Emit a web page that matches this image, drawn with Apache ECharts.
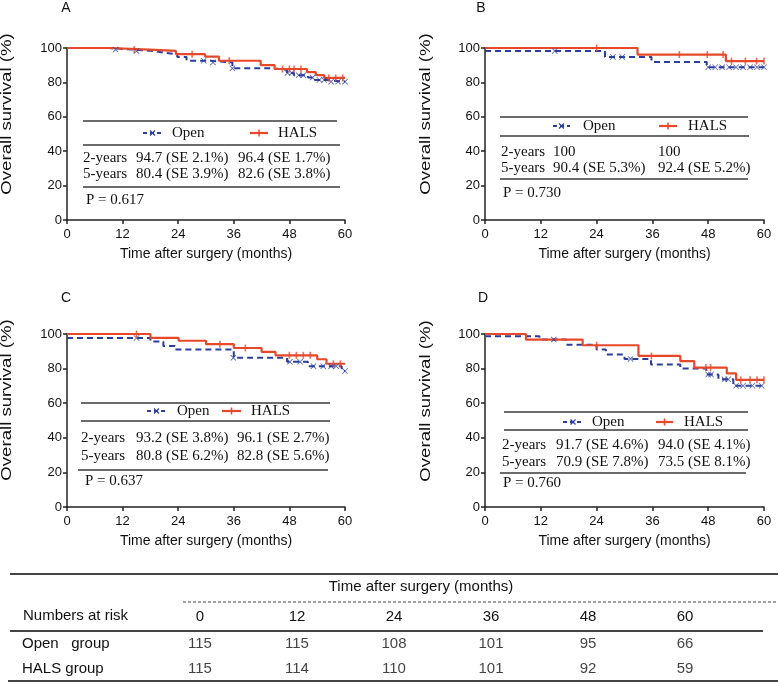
<!DOCTYPE html>
<html><head><meta charset="utf-8">
<script src="https://cdn.jsdelivr.net/npm/echarts@6.0.0/dist/echarts.min.js"></script>
<style>html,body{margin:0;padding:0;background:#fff}#c{width:778px;height:683px}</style>
</head><body><div id="c"></div>
<script>
// ---------- data ----------
const xTicks = [0, 12, 24, 36, 48, 60];
const panelTitles = ['A', 'B', 'C', 'D'];
const seriesNames = ['Open', 'HALS'];
const yAxisTitle = 'Overall survival (%)';
const xAxisTitle = 'Time after surgery (months)';

// Panel A
const openA = [[0,100],[9,99.1],[14,98.2],[19,97.3],[21,96.4],[23.8,94.7],[25.8,92.6],[31,91.6],[35.7,88.2],[44.5,87.3],[47.5,85.5],[49,84.2],[52,82.8],[53.5,81.4],[56,80.4],[60,80.4]];
const halsA = [[0,100],[9,99.1],[17.8,98.3],[23.5,96.4],[29.8,95.0],[32.8,92.6],[41.8,90.1],[44.8,87.8],[51.8,86.0],[53.7,84.2],[55.5,82.6],[60,82.6]];
const openCensA = [[10.5,99.1],[15,98.2],[29.5,92.6],[31.5,91.6],[35.7,88.2],[47.6,85.5],[48.5,85.5],[50,84.2],[51,84.2],[53,82.8],[54.5,81.4],[55.5,81.4],[57,80.4],[58.5,80.4],[60,80.4]];
const halsCensA = [[14.5,99.1],[27,96.4],[35,92.6],[46.5,87.8],[48,87.8],[49,87.8],[50.5,87.8],[56.5,82.6],[58,82.6],[59.5,82.6]];
const statsA = ['94.7 (SE 2.1%)','96.4 (SE 1.7%)','80.4 (SE 3.9%)','82.6 (SE 3.8%)','P = 0.617'];

// Panel B
const openB = [[0,98.3],[25.8,94.8],[35.8,91.9],[47.7,88.8],[60,88.8]];
const halsB = [[0,100],[32.8,96.2],[51.8,92.4],[60,92.4]];
const openCensB = [[15,98.3],[27.5,94.8],[29.5,94.8],[48,88.8],[49.5,88.8],[51,88.8],[52.5,88.8],[54,88.8],[55.5,88.8],[57,88.8],[58.5,88.8],[60,88.8]];
const halsCensB = [[24,100],[41.8,96.2],[47.8,96.2],[51.2,96.2],[53,92.4],[56,92.4],[58.4,92.4],[60,92.4]];
const statsB = ['100','100','90.4 (SE 5.3%)','92.4 (SE 5.2%)','P = 0.730'];

// Panel C
const openC = [[0,97.7],[18,95.6],[20.8,93.1],[23.3,91.0],[36,86.2],[47.5,83.9],[52,81.4],[59.3,78.6],[60,78.6]];
const halsC = [[0,100],[18,97.8],[24.1,96.1],[30,94.1],[36,91.9],[42,89.7],[45,87.7],[54,85.4],[56,82.8],[60,82.8]];
const openCensC = [[15,97.7],[35.9,86.2],[48.1,83.9],[50.3,83.9],[53.2,81.4],[55.3,81.4],[57,81.4],[58.1,81.4],[60,78.6]];
const halsCensC = [[15,100],[33,94.1],[38.5,91.9],[48,87.7],[49.5,87.7],[51,87.7],[52.5,87.7],[57.5,82.8],[59,82.8]];
const statsC = ['93.2 (SE 3.8%)','96.1 (SE 2.7%)','80.8 (SE 6.2%)','82.8 (SE 5.6%)','P = 0.637'];

// Panel D
const openD = [[0,98.7],[11.7,96.8],[17.5,93.8],[24,91.0],[26,88.2],[30,85.6],[35.7,82.4],[42,80.0],[47.6,76.6],[50.2,73.8],[53.4,70.1],[60,70.1]];
const halsD = [[0,100],[8.8,96.8],[21,93.5],[33,87.3],[42,84.3],[45,80.6],[52,77.2],[54,73.5],[60,73.5]];
const openCensD = [[14.8,96.8],[31.3,85.6],[48,76.6],[48.6,76.6],[51.5,73.8],[52.3,73.8],[54,70.1],[55.5,70.1],[57.5,70.1],[59.5,70.1]];
const halsCensD = [[24,93.5],[35.8,87.3],[47.5,80.6],[48.5,80.6],[55,73.5],[57,73.5],[58.5,73.5],[60,73.5]];
const statsD = ['91.7 (SE 4.6%)','94.0 (SE 4.1%)','70.9 (SE 7.8%)','73.5 (SE 8.1%)','P = 0.760'];

const rowLabels = ['2-years', '5-years'];

// Numbers at risk table
const riskTimes = [0, 12, 24, 36, 48, 60];
const riskGroups = ['Open   group', 'HALS group'];
const openRisk = [115, 115, 108, 101, 95, 66];
const halsRisk = [115, 114, 110, 101, 92, 59];
const riskHeader = 'Numbers at risk';

// ---------- styles / layout ----------
const BLUE = '#2c3e9c', RED = '#e8482a', AX = '#222', RULE = '#3a3a3a';
const SANS = '"Liberation Sans", Arial, Helvetica, sans-serif';
const SERIF = '"Liberation Serif", "Times New Roman", Times, serif';
const xPath = 'path://M0,1L1,0L5,4L9,0L10,1L6,5L10,9L9,10L5,6L1,10L0,9L4,5Z';

const panels = [
  {left:67, top:48, w:278, h:172, open:openA, hals:halsA, oc:openCensA, hc:halsCensA, st:statsA,
   title:[66,8.5], yname:[7.5,114],
   inset:{r1:[121,83,337], leg:{y:133,b:[143,162],open:172,r:[250,268],hals:278}, r2:[145,83,340], rows:[158,174], cols:[83,136,238], r3:[187,83,340], p:[86,200]}},
  {left:485, top:48, w:279, h:172, open:openB, hals:halsB, oc:openCensB, hc:halsCensB, st:statsB,
   title:[481,8.5], yname:[426,114],
   inset:{r1:[117,500,748], leg:{y:126,b:[553,570],open:583,r:[659,677],hals:688}, r2:[136,500,749], rows:[152,168], cols:[501,553,658], r3:[179,500,748], p:[503,193]}},
  {left:67, top:334, w:278, h:173, open:openC, hals:halsC, oc:openCensC, hc:halsCensC, st:statsC,
   title:[66,298], yname:[7.5,400],
   inset:{r1:[403,81,330], leg:{y:411,b:[147,166],open:177,r:[222,241],hals:251}, r2:[421,81,330], rows:[438,456], cols:[81,136,237], r3:[470,78,328], p:[85,481]}},
  {left:485, top:334, w:279, h:173, open:openD, hals:halsD, oc:openCensD, hc:halsCensD, st:statsD,
   title:[483,298], yname:[426,401],
   inset:{r1:[412,504,748], leg:{y:422,b:[563,583],open:592,r:[656,673],hals:684}, r2:[430,504,748], rows:[445,462], cols:[502,556,658], r3:[473,500,746], p:[503,483]}}
];

function txt(x, y, text, font, align, extra) {
  return Object.assign({type:'text', x:x, y:y, silent:true,
    style:{text:text, font:font, fill:'#111', align:align||'left', verticalAlign:'middle'}}, extra||{});
}
function ln(x1, y1, x2, y2, opts) {
  opts = opts || {};
  return {type:'line', silent:true, shape:{x1:x1,y1:y1,x2:x2,y2:y2},
    style:{stroke:opts.color||RULE, lineWidth:opts.w||1.5, lineDash:opts.dash||null}};
}

const grid = [], xAxis = [], yAxis = [], series = [], graphic = [];

panels.forEach((p, i) => {
  grid.push({left:p.left, top:p.top, width:p.w, height:p.h});
  xAxis.push({type:'value', gridIndex:i, min:0, max:60, interval:12,
    name:xAxisTitle, nameLocation:'middle', nameGap:27,
    nameTextStyle:{fontFamily:SANS, fontSize:14, color:'#111'},
    axisLine:{show:true, onZero:false, lineStyle:{color:AX, width:1.5}},
    axisTick:{show:true, length:4, lineStyle:{color:AX, width:1.5}},
    axisLabel:{fontFamily:SANS, fontSize:13, color:'#111', margin:8},
    splitLine:{show:false}});
  yAxis.push({type:'value', gridIndex:i, min:0, max:100, interval:20,
    axisLine:{show:true, onZero:false, lineStyle:{color:AX, width:1.5}},
    axisTick:{show:true, length:4, lineStyle:{color:AX, width:1.5}},
    axisLabel:{fontFamily:SANS, fontSize:13, color:'#111', margin:5},
    splitLine:{show:false}});
  series.push(
    {type:'line', name:seriesNames[0], xAxisIndex:i, yAxisIndex:i, data:p.open, step:'end',
     symbol:'none', showSymbol:false, lineStyle:{color:BLUE, width:2, type:[6,4]}, z:2},
    {type:'line', name:seriesNames[1], xAxisIndex:i, yAxisIndex:i, data:p.hals, step:'end',
     symbol:'none', showSymbol:false, lineStyle:{color:RED, width:2.2}, z:3},
    {type:'scatter', xAxisIndex:i, yAxisIndex:i, data:p.oc, symbol:xPath, symbolSize:6,
     itemStyle:{color:BLUE}, z:4},
    {type:'scatter', xAxisIndex:i, yAxisIndex:i, data:p.hc, symbol:'rect', symbolSize:[1.6,7],
     itemStyle:{color:RED}, z:5}
  );
  // panel letter
  graphic.push(txt(p.title[0], p.title[1], panelTitles[i], '14px ' + SANS, 'center'));
  // y axis title (stretched lengthwise as in the reference)
  graphic.push(txt(p.yname[0], p.yname[1], yAxisTitle, '14px ' + SANS, 'center',
    {rotation:Math.PI/2, scaleX:1.33}));
  // inset table
  const s = p.inset, L = s.leg;
  graphic.push(ln(s.r1[1], s.r1[0], s.r1[2], s.r1[0]));
  graphic.push(ln(s.r2[1], s.r2[0], s.r2[2], s.r2[0]));
  graphic.push(ln(s.r3[1], s.r3[0], s.r3[2], s.r3[0]));
  graphic.push(ln(L.b[0], L.y, L.b[1], L.y, {color:BLUE, w:2, dash:[4,3]}));
  const bm = (L.b[0] + L.b[1]) / 2;
  graphic.push(ln(bm-2.5, L.y-2.5, bm+2.5, L.y+2.5, {color:BLUE, w:1.3}));
  graphic.push(ln(bm-2.5, L.y+2.5, bm+2.5, L.y-2.5, {color:BLUE, w:1.3}));
  graphic.push(ln(L.r[0], L.y, L.r[1], L.y, {color:RED, w:2.2}));
  const rm = (L.r[0] + L.r[1]) / 2;
  graphic.push(ln(rm, L.y-3.5, rm, L.y+3.5, {color:RED, w:1.5}));
  graphic.push(txt(L.open, L.y, seriesNames[0], '15px ' + SERIF, 'left'));
  graphic.push(txt(L.hals, L.y, seriesNames[1], '15px ' + SERIF, 'left'));
  for (let r = 0; r < 2; r++) {
    graphic.push(txt(s.cols[0], s.rows[r], rowLabels[r], '15px ' + SERIF, 'left'));
    graphic.push(txt(s.cols[1], s.rows[r], p.st[r*2], '15px ' + SERIF, 'left'));
    graphic.push(txt(s.cols[2], s.rows[r], p.st[r*2+1], '15px ' + SERIF, 'left'));
  }
  graphic.push(txt(s.p[0], s.p[1], p.st[4], '15px ' + SERIF, 'left'));
});

// ---------- numbers-at-risk table (grid 4) ----------
grid.push({left:200, right:93, top:631, height:50});
xAxis.push({type:'value', gridIndex:4, min:0, max:60, interval:12, position:'top',
  axisLine:{show:false}, axisTick:{show:false}, splitLine:{show:false},
  axisLabel:{fontFamily:SANS, fontSize:15, color:'#111', margin:7}});
yAxis.push({type:'category', gridIndex:4, data:riskGroups, inverse:true,
  axisLine:{show:false}, axisTick:{show:false}, splitLine:{show:false},
  axisLabel:{fontFamily:SANS, fontSize:15, color:'#111', align:'left', margin:178}});
const riskData = [];
riskTimes.forEach((t, k) => {
  riskData.push([t, 0, openRisk[k]]);
  riskData.push([t, 1, halsRisk[k]]);
});
series.push({type:'scatter', xAxisIndex:4, yAxisIndex:4, data:riskData, symbolSize:1,
  itemStyle:{color:'rgba(0,0,0,0)'}, silent:true,
  label:{show:true, position:'inside', formatter:(q)=>String(q.value[2]),
    fontFamily:SANS, fontSize:15, color:'#111'}});
graphic.push(ln(10, 574, 778, 574, {w:2, color:'#444'}));
graphic.push(txt(421, 587, xAxisTitle, '15px ' + SANS, 'center'));
graphic.push(ln(183, 602, 778, 602, {w:1.2, color:'#444', dash:[3,2]}));
graphic.push(txt(23, 616, riskHeader, '15px ' + SANS, 'left'));
graphic.push(ln(10, 631, 763, 631, {w:2, color:'#444'}));
graphic.push(ln(8, 681, 778, 681, {w:2, color:'#444'}));

const chart = echarts.init(document.getElementById('c'), null, {renderer:'canvas'});
chart.setOption({
  animation:false,
  backgroundColor:'#fff',
  grid:grid, xAxis:xAxis, yAxis:yAxis, series:series,
  graphic:{elements:graphic}
});
</script>
</body></html>
